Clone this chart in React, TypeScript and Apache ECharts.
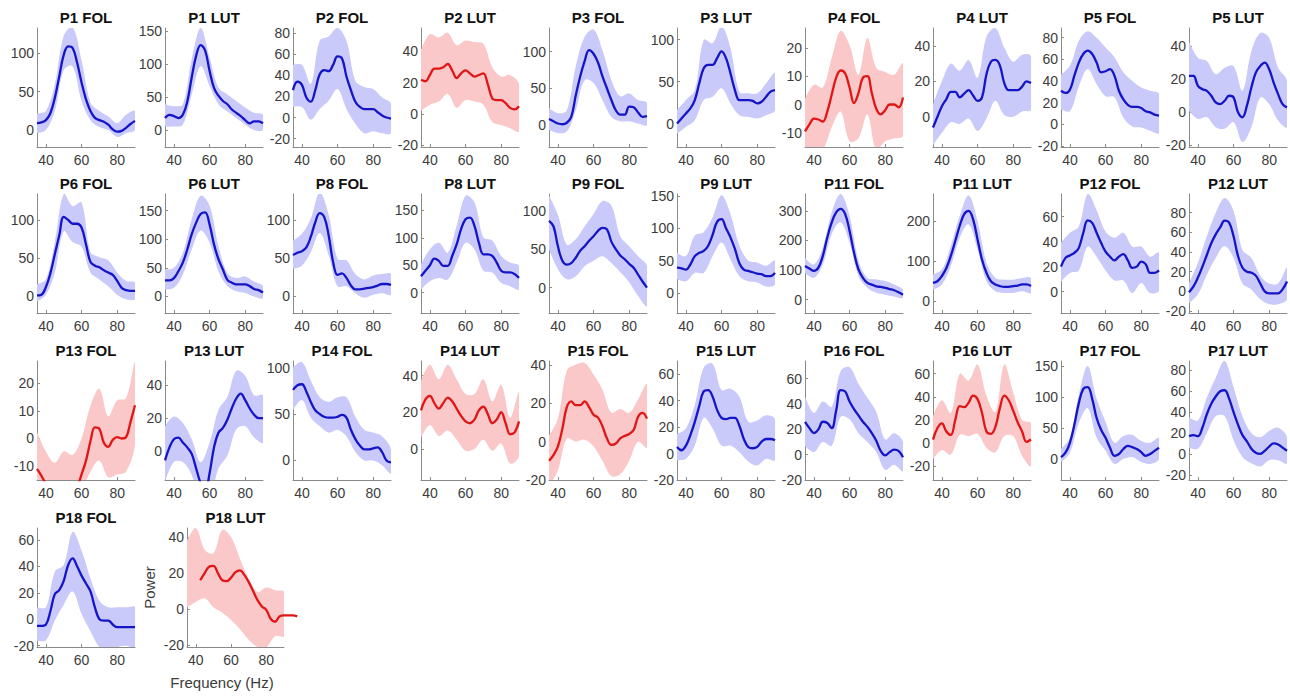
import React, { useEffect, useRef } from "react";
import * as echarts from "echarts";

const FREQ = [35, 37.5, 40, 42.5, 45, 47.5, 50, 52.5, 55, 57.5, 60, 62.5, 65, 67.5, 70, 72.5, 75, 77.5, 80, 82.5, 85, 87.5, 90];
const FREQ_LONG = [...FREQ, 92.5, 95, 97.5];
const FREQ_BAND = [35, 40, 45, 50, 55, 60, 65, 70, 75, 80, 85, 90];
const X_TICKS = [40, 60, 80];

const TITLES = [
  "P1 FOL", "P1 LUT", "P2 FOL", "P2 LUT", "P3 FOL", "P3 LUT", "P4 FOL", "P4 LUT", "P5 FOL", "P5 LUT",
  "P6 FOL", "P6 LUT", "P8 FOL", "P8 LUT", "P9 FOL", "P9 LUT", "P11 FOL", "P11 LUT", "P12 FOL", "P12 LUT",
  "P13 FOL", "P13 LUT", "P14 FOL", "P14 LUT", "P15 FOL", "P15 LUT", "P16 FOL", "P16 LUT", "P17 FOL", "P17 LUT",
  "P18 FOL", "P18 LUT",
];
const RED_PANELS = ["P2 LUT", "P4 FOL", "P13 FOL", "P14 LUT", "P15 FOL", "P16 LUT", "P18 LUT"];

const Y_MIN = [-22, -26, -28, -21, -30, -28, -15, -17, -21, -21, -22, -29, -22, -37, -33, -31, -45, -29, -17, -22, -15, -18, -21, -17, -20, -20, -20, -32, -34, -25, -21, -21];
const Y_MAX = [133, 155, 85, 55, 132, 114, 27, 50, 89, 51, 134, 179, 134, 180, 122, 153, 357, 267, 78, 99, 28, 55, 107, 48, 42, 70, 74, 71, 158, 89, 69, 45];
const T50 = [0, 50, 100];
const T150 = [0, 50, 100, 150];
const T20_80 = [-20, 0, 20, 40, 60, 80];
const T20_40 = [-20, 0, 20, 40];
const T20_60 = [-20, 0, 20, 40, 60];
const T0_40 = [0, 20, 40];
const T0_60 = [0, 20, 40, 60];
const T10 = [-10, 0, 10, 20];
const T300 = [0, 100, 200, 300];
const T200 = [0, 100, 200];
const Y_TICKS = [T50, T150, T20_80, T20_40, T50, T50, T10, T0_40, T20_80, T20_40, T50, T150, T50, T150, T50, T150, T300, T200, T0_60, T20_80, T10, T0_40, T50, T0_40, T20_40, T20_60, T20_60, T20_60, T150, T20_80, T20_60, T20_40];

const P1_FOL_MEAN = [9, 10, 13, 22, 42, 70, 98, 109, 107, 88, 62, 40, 25, 16, 13, 11, 7, 1, -2, -1, 3, 8, 12];
const P1_FOL_UP = [22, 25, 60, 123, 134, 91, 36, 25, 18, 9, 20, 25];
const P1_FOL_LO = [-4, 0, 25, 78, 83, 38, 13, 4, 0, -9, -4, 0];
const P1_LUT_MEAN = [18, 23, 21, 18, 23, 43, 80, 113, 129, 121, 90, 64, 52, 44, 39, 31, 26, 21, 15, 10, 13, 13, 10];
const P1_LUT_UP = [39, 36, 39, 108, 155, 111, 64, 54, 44, 34, 26, 23];
const P1_LUT_LO = [5, 5, 8, 54, 97, 67, 39, 28, 18, 8, 0, 0];
const P2_FOL_MEAN = [26, 34, 31, 19, 15, 26, 41, 45, 44, 50, 58, 56, 39, 26, 15, 10, 8, 8, 8, 5, 2, 0, -1];
const P2_FOL_UP = [50, 50, 32, 73, 77, 85, 73, 35, 29, 27, 19, 13];
const P2_FOL_LO = [10, 10, -2, 8, 16, 27, 8, -6, -15, -13, -15, -15];
const P2_LUT_MEAN = [22, 21, 25, 29, 29, 30, 32, 28, 23, 26, 28, 26, 24, 25, 26, 19, 10, 9, 9, 7, 4, 3, 5];
const P2_LUT_UP = [41, 51, 49, 52, 44, 47, 46, 45, 30, 24, 25, 19];
const P2_LUT_LO = [2, 6, 8, 13, 4, 9, 8, 6, -5, -7, -9, -11];
const P3_FOL_MEAN = [8, 5, 2, 1, 3, 11, 40, 66, 87, 102, 97, 85, 66, 50, 34, 20, 14, 14, 25, 24, 17, 11, 12];
const P3_FOL_UP = [23, 16, 20, 80, 120, 130, 102, 61, 39, 43, 34, 30];
const P3_FOL_LO = [-7, -11, -9, 20, 61, 57, 34, 11, 5, 5, 2, 0];
const P3_LUT_MEAN = [0, 6, 12, 18, 28, 48, 66, 70, 70, 78, 86, 78, 60, 40, 28, 28, 28, 27, 24, 26, 32, 38, 40];
const P3_LUT_UP = [16, 28, 40, 100, 96, 116, 90, 38, 36, 36, 48, 60];
const P3_LUT_LO = [-12, -4, 4, 28, 32, 42, 24, 10, 8, 6, 10, 16];
const P4_FOL_MEAN = [-9.5, -7, -5, -5.3, -6, -2.5, 3.5, 9.5, 12, 11, 6, 0.5, 4, 9.5, 10, 4, -1.5, -3.5, -2, 0, 0, -1, 2.5];
const P4_FOL_UP = [2, 7, 6, 16.5, 26, 21, 10.5, 23.5, 13, 11.5, 10.5, 14.5];
const P4_FOL_LO = [-19, -17, -16, -8, -2.5, -13, -12, -3.5, -16, -13, -12, -11];
const P4_LUT_MEAN = [-6, 0, 6, 10, 14, 14, 11, 13, 15, 12, 9, 11, 24, 31, 32, 29, 19, 15, 15, 15, 17, 20, 19];
const P4_LUT_UP = [7, 20, 30, 26, 32, 22, 45, 50, 39, 31, 35, 34];
const P4_LUT_LO = [-16, -9, -3, -4, -1, -8, -1, 9, 1, 0, 3, 4];
const P5_FOL_MEAN = [31, 29, 32, 45, 57, 65, 68, 65, 57, 48, 49, 51, 45, 31, 23, 18, 16, 16, 15, 12, 11, 9, 8];
const P5_FOL_UP = [46, 54, 77, 86, 80, 71, 62, 48, 40, 34, 31, 28];
const P5_FOL_LO = [14, 12, 35, 51, 37, 26, 25, 6, -2, -3, -6, -8];
const P5_LUT_MEAN = [22, 22, 16, 14, 13, 10, 6, 5, 7, 10, 9, 0, -3, 4, 15, 24, 28, 30, 26, 18, 11, 5, 3];
const P5_LUT_UP = [43, 33, 31, 23, 27, 28, 13, 37, 48, 45, 27, 19];
const P5_LUT_LO = [1, -4, -3, -9, -10, -6, -18, -9, 9, 5, -5, -9];
const P6_FOL_MEAN = [1, 2, 12, 30, 55, 80, 104, 100, 95, 95, 90, 68, 45, 40, 38, 34, 31, 28, 20, 11, 8, 7, 7];
const P6_FOL_UP = [16, 22, 71, 134, 118, 123, 58, 51, 47, 31, 20, 18];
const P6_FOL_LO = [-7, 2, 31, 85, 71, 65, 31, 22, 13, 2, -4, -4];
const P6_LUT_MEAN = [28, 28, 32, 44, 59, 82, 109, 129, 144, 147, 126, 91, 65, 47, 29, 24, 21, 21, 21, 18, 13, 11, 7];
const P6_LUT_UP = [47, 50, 76, 135, 176, 159, 88, 41, 32, 35, 26, 18];
const P6_LUT_LO = [12, 15, 38, 82, 115, 94, 44, 18, 9, 6, 0, -3];
const P8_FOL_MEAN = [54, 57, 59, 64, 78, 97, 109, 104, 80, 45, 28, 30, 24, 14, 9, 9, 10, 11, 12, 14, 16, 16, 15];
const P8_FOL_UP = [73, 82, 102, 136, 107, 49, 47, 29, 22, 27, 29, 29];
const P8_FOL_LO = [36, 40, 58, 83, 54, 13, 13, 4, -2, 2, 4, 2];
const P8_LUT_MEAN = [30, 40, 50, 62, 58, 49, 49, 67, 88, 116, 134, 137, 122, 91, 70, 70, 67, 55, 40, 37, 37, 34, 27];
const P8_LUT_UP = [52, 79, 91, 73, 122, 177, 165, 101, 95, 67, 55, 49];
const P8_LUT_LO = [6, 21, 27, 24, 55, 91, 79, 40, 37, 18, 12, 6];
const P9_FOL_MEAN = [87, 80, 54, 35, 30, 32, 39, 48, 54, 61, 67, 74, 78, 76, 60, 50, 42, 37, 31, 26, 17, 8, 0];
const P9_FOL_UP = [120, 95, 56, 63, 80, 96, 113, 107, 67, 54, 41, 28];
const P9_FOL_LO = [50, 24, 11, 15, 28, 35, 41, 32, 20, 7, -11, -24];
const P9_LUT_MEAN = [39, 38, 36, 44, 57, 62, 65, 73, 90, 110, 114, 100, 86, 68, 46, 36, 34, 32, 30, 29, 26, 26, 31];
const P9_LUT_UP = [62, 57, 89, 94, 117, 151, 122, 73, 50, 47, 42, 50];
const P9_LUT_LO = [21, 18, 31, 31, 57, 78, 52, 26, 18, 16, 10, 13];
const P11_FOL_MEAN = [114, 105, 97, 108, 148, 210, 261, 295, 307, 290, 233, 159, 102, 74, 57, 51, 45, 43, 40, 36, 32, 25, 17];
const P11_FOL_UP = [142, 119, 176, 295, 357, 284, 131, 74, 68, 63, 51, 34];
const P11_FOL_LO = [91, 74, 119, 222, 261, 193, 80, 40, 23, 17, 11, 6];
const P11_LUT_MEAN = [46, 50, 63, 83, 113, 150, 188, 217, 225, 204, 154, 104, 71, 50, 42, 38, 36, 36, 38, 39, 42, 42, 38];
const P11_LUT_UP = [67, 79, 138, 213, 263, 200, 96, 58, 54, 54, 58, 58];
const P11_LUT_LO = [29, 42, 88, 158, 192, 129, 50, 25, 21, 21, 25, 21];
const P12_FOL_MEAN = [20, 27, 29, 31, 35, 47, 57, 55, 47, 39, 32, 28, 25, 28, 30, 25, 19, 20, 24, 22, 15, 15, 17];
const P12_FOL_UP = [39, 47, 52, 78, 65, 48, 43, 47, 36, 36, 28, 31];
const P12_FOL_LO = [8, 15, 17, 36, 28, 17, 9, 9, -1, 7, -1, 1];
const P12_LUT_MEAN = [-1, 5, 14, 25, 37, 49, 58, 65, 72, 70, 56, 36, 24, 20, 19, 16, 8, 0, -2, -2, -2, 2, 10];
const P12_LUT_UP = [8, 29, 56, 80, 95, 82, 42, 34, 16, 8, 8, 24];
const P12_LUT_LO = [-12, -3, 17, 34, 46, 34, 8, 2, -8, -13, -13, -8];
const P13_FOL_MEAN = [-11, -13.5, -16.5, -19, -22, -25, -26, -25, -22, -18, -13, -8, -1, 4, 3.5, -1.5, -3, -0.5, 0.5, 0, 0.5, 6, 12];
const P13_FOL_UP = [2.3, -4.7, -8.8, -4.7, -6, 0, 11.8, 18, 8, 13.8, 14.5, 27.5];
const P13_FOL_LO = [-25, -30, -35, -38, -35, -20, -12, -8, -14, -13, -12, -2];
const P13_LUT_MEAN = [-6, 2, 7, 8, 5, 2, -2, -11, -20, -25, -14, 2, 11, 14, 19, 26, 32, 35, 31, 26, 22, 20, 20];
const P13_LUT_UP = [15, 21, 17, 7, -7, 5, 25, 33, 49, 46, 34, 34];
const P13_LUT_LO = [-19, -7, -7, -15, -35, -30, -11, -3, 13, 15, 8, 5];
const P14_FOL_MEAN = [76, 81, 82, 74, 63, 54, 50, 47, 46, 46, 47, 49, 46, 33, 23, 16, 12, 12, 13, 14, 9, 0, -2];
const P14_FOL_UP = [100, 106, 86, 68, 63, 68, 68, 47, 33, 30, 26, 12];
const P14_FOL_LO = [54, 65, 46, 37, 30, 33, 26, 9, 0, 0, -5, -14];
const P14_LUT_MEAN = [21, 27, 29, 25, 22, 25, 28, 26, 22, 18, 15, 14, 16, 21, 23, 19, 14, 16, 20, 14, 8, 9, 15];
const P14_LUT_UP = [37, 46, 38, 46, 38, 30, 30, 38, 26, 35, 17, 31];
const P14_LUT_LO = [6, 13, 7, 10, 5, -1, 0, 5, -1, 3, -8, -4];
const P15_FOL_MEAN = [-10, -7, -2.5, 6.7, 18, 21, 19, 19, 21, 18, 14, 12.5, 8, 1.7, -1.7, -1, 1.7, 3, 4, 6, 13, 15, 12];
const P15_FOL_UP = [3, 12, 37, 40, 41, 35, 27, 15, 17, 15, 22, 30];
const P15_FOL_LO = [-23, -15, 1.7, 0, 1, -2.5, -10, -18, -17, -10, 0, -3];
const P15_LUT_MEAN = [5, 2.5, 6, 14, 24, 36, 47, 48, 43, 33, 27, 26, 27, 27, 21, 11, 5, 4, 5, 9, 11, 11, 10];
const P15_LUT_UP = [15, 19, 37, 65, 68, 48, 49, 43, 24, 25, 29, 26];
const P15_LUT_LO = [-5, -4, 6, 27, 19, 6, 6, 1, -6, -9, -4, -5];
const P16_FOL_MEAN = [26, 21, 17, 20, 26, 25, 21, 35, 51, 50, 42, 36, 31, 26, 22, 17, 11, 3, -0.5, 2, 4, 3, -2];
const P16_FOL_UP = [46, 33, 42, 38, 66, 69, 56, 45, 34, 12, 17, 10];
const P16_FOL_LO = [7, 2, 10, 7, 30, 28, 17, 10, 2, -12, -8, -13];
const P16_LUT_MEAN = [3, 13, 17, 10, 7, 20, 32, 31, 35, 41, 38, 26, 10, 8, 14, 30, 41, 37, 28, 18, 10, 1, 3];
const P16_LUT_UP = [23, 37, 26, 60, 54, 68, 41, 27, 68, 44, 20, 17];
const P16_LUT_LO = [-14, -6, -10, 7, 6, 8, -4, -8, 6, 6, -11, -20];
const P17_FOL_MEAN = [3, 10, 26, 55, 90, 113, 116, 97, 66, 47, 34, 18, 5, 8, 16, 21, 19, 16, 11, 5, 8, 13, 18];
const P17_FOL_UP = [16, 34, 103, 150, 97, 60, 26, 37, 39, 29, 26, 34];
const P17_FOL_LO = [-5, 10, 58, 82, 34, 13, -8, 0, 3, -5, -8, 0];
const P17_LUT_MEAN = [17, 18, 17, 25, 38, 48, 55, 60, 61, 53, 40, 28, 18, 12, 5, 1, 0, 3, 7, 10, 9, 6, 3];
const P17_LUT_UP = [35, 32, 54, 73, 89, 64, 36, 20, 16, 22, 25, 16];
const P17_LUT_LO = [6, 5, 20, 36, 36, 13, -3, -9, -12, -6, -6, -9];
const P18_FOL_MEAN = [-5, -5, -4, 6, 19, 22, 29, 41, 46, 40, 33, 27, 21, 9, 0, -1, -1, -4, -6, -6, -6, -6, -6];
const P18_FOL_UP = [9, 9, 36, 41, 66, 52, 31, 14, 9, 9, 9, 9];
const P18_FOL_LO = [-16, -16, -1, 11, 21, 4, -9, -21, -24, -21, -20, -21];
const P18_LUT_MEAN = [null, null, null, 16, 20, 23.5, 24, 20, 16, 15.5, 17.5, 20.5, 21.5, 19, 15, 10, 5, 1.5, -0.5, -5.5, -7, -4, -3.5, -3.5, -3.5, -4];
const P18_LUT_UP = [38, 45, 33, 31, 44, 40, 28, 17, 9.5, 12, 10.5, 9.5];
const P18_LUT_LO = [1, 4, 6, 1, -2, -6, -11, -17, -21, -21, -15, -15];

const MEANS = [P1_FOL_MEAN, P1_LUT_MEAN, P2_FOL_MEAN, P2_LUT_MEAN, P3_FOL_MEAN, P3_LUT_MEAN, P4_FOL_MEAN, P4_LUT_MEAN, P5_FOL_MEAN, P5_LUT_MEAN,
  P6_FOL_MEAN, P6_LUT_MEAN, P8_FOL_MEAN, P8_LUT_MEAN, P9_FOL_MEAN, P9_LUT_MEAN, P11_FOL_MEAN, P11_LUT_MEAN, P12_FOL_MEAN, P12_LUT_MEAN,
  P13_FOL_MEAN, P13_LUT_MEAN, P14_FOL_MEAN, P14_LUT_MEAN, P15_FOL_MEAN, P15_LUT_MEAN, P16_FOL_MEAN, P16_LUT_MEAN, P17_FOL_MEAN, P17_LUT_MEAN,
  P18_FOL_MEAN, P18_LUT_MEAN];
const UPS = [P1_FOL_UP, P1_LUT_UP, P2_FOL_UP, P2_LUT_UP, P3_FOL_UP, P3_LUT_UP, P4_FOL_UP, P4_LUT_UP, P5_FOL_UP, P5_LUT_UP,
  P6_FOL_UP, P6_LUT_UP, P8_FOL_UP, P8_LUT_UP, P9_FOL_UP, P9_LUT_UP, P11_FOL_UP, P11_LUT_UP, P12_FOL_UP, P12_LUT_UP,
  P13_FOL_UP, P13_LUT_UP, P14_FOL_UP, P14_LUT_UP, P15_FOL_UP, P15_LUT_UP, P16_FOL_UP, P16_LUT_UP, P17_FOL_UP, P17_LUT_UP,
  P18_FOL_UP, P18_LUT_UP];
const LOS = [P1_FOL_LO, P1_LUT_LO, P2_FOL_LO, P2_LUT_LO, P3_FOL_LO, P3_LUT_LO, P4_FOL_LO, P4_LUT_LO, P5_FOL_LO, P5_LUT_LO,
  P6_FOL_LO, P6_LUT_LO, P8_FOL_LO, P8_LUT_LO, P9_FOL_LO, P9_LUT_LO, P11_FOL_LO, P11_LUT_LO, P12_FOL_LO, P12_LUT_LO,
  P13_FOL_LO, P13_LUT_LO, P14_FOL_LO, P14_LUT_LO, P15_FOL_LO, P15_LUT_LO, P16_FOL_LO, P16_LUT_LO, P17_FOL_LO, P17_LUT_LO,
  P18_FOL_LO, P18_LUT_LO];

const FONT = "'Liberation Sans', Arial, Helvetica, sans-serif";
const AXIS_COLOR = "#8a8a8a";
const LABEL_COLOR = "#3c3c3c";
const BLUE = "#1515c8";
const BLUE_BAND = "#c9c9fa";
const RED = "#e01616";
const RED_BAND = "#fac8c8";

const ROW_TOPS = [28, 194, 361, 528];
const COL_LEFT0 = 37;
const COL_STEP = 128;
const PLOT_W = 98;
const PLOT_H = 119;

function buildOption() {
  const grids: any[] = [];
  const xAxes: any[] = [];
  const yAxes: any[] = [];
  const series: any[] = [];
  const titles: any[] = [];

  TITLES.forEach((title, i) => {
    const r = Math.floor(i / 10);
    const c = i % 10;
    const isLast = i === TITLES.length - 1;
    const left = isLast ? 187 : COL_LEFT0 + COL_STEP * c;
    const width = isLast ? 97 : PLOT_W;
    const top = ROW_TOPS[r];
    const red = RED_PANELS.includes(title);
    const lineColor = red ? RED : BLUE;
    const bandColor = red ? RED_BAND : BLUE_BAND;

    grids.push({ left, top, width, height: PLOT_H, containLabel: false });
    titles.push({
      text: title,
      left: left + width / 2,
      top: top - 18,
      textAlign: "center",
      padding: 0,
      textStyle: { fontFamily: FONT, fontSize: 15, fontWeight: "bold", color: "#111" },
    });

    xAxes.push({
      type: "value",
      gridIndex: i,
      min: 35,
      max: 90,
      axisLine: { show: true, onZero: false, lineStyle: { color: AXIS_COLOR, width: 1 } },
      axisTick: { show: true, inside: true, length: 3, customValues: X_TICKS, lineStyle: { color: AXIS_COLOR } },
      axisLabel: { customValues: X_TICKS, fontSize: 14, color: LABEL_COLOR, margin: 6, fontFamily: FONT },
      splitLine: { show: false },
      ...(isLast
        ? {
            name: "Frequency (Hz)",
            nameLocation: "middle",
            nameGap: 28,
            nameTextStyle: { fontSize: 15, color: LABEL_COLOR, fontFamily: FONT, padding: [0, 27, 0, 0] },
          }
        : {}),
    });
    yAxes.push({
      type: "value",
      gridIndex: i,
      min: Y_MIN[i],
      max: Y_MAX[i],
      axisLine: { show: true, onZero: false, lineStyle: { color: AXIS_COLOR, width: 1 } },
      axisTick: { show: true, inside: true, length: 3, customValues: Y_TICKS[i], lineStyle: { color: AXIS_COLOR } },
      axisLabel: { customValues: Y_TICKS[i], fontSize: 14, color: LABEL_COLOR, margin: 3, fontFamily: FONT },
      splitLine: { show: false },
      ...(isLast
        ? {
            name: "Power",
            nameLocation: "middle",
            nameGap: 30,
            nameTextStyle: { fontSize: 15, color: LABEL_COLOR, fontFamily: FONT },
          }
        : {}),
    });

    const lo = LOS[i];
    const up = UPS[i];
    series.push({
      type: "custom",
      xAxisIndex: i,
      yAxisIndex: i,
      silent: true,
      clip: true,
      z: 1,
      data: [[62.5, 0]],
      encode: { x: 0, y: 1 },
      renderItem: (params: any, api: any) => {
        const upper = FREQ_BAND.map((f, k) => api.coord([f, up[k]]));
        const lower = FREQ_BAND.map((f, k) => api.coord([f, lo[k]])).reverse();
        const cs = params.coordSys;
        return {
          type: "group",
          clipPath: { type: "rect", shape: { x: cs.x, y: cs.y, width: cs.width, height: cs.height } },
          children: [
            {
              type: "polyline",
              shape: { points: upper.concat(lower), smooth: 0.35 },
              style: { fill: bandColor, stroke: "none" },
            },
          ],
        };
      },
    });

    const mean = MEANS[i];
    let axisIdx = i;
    let freqs = FREQ;
    if (isLast) {
      // the last panel's mean trace runs past the 90 Hz end of its axis:
      // draw it on a hidden, wider twin of the same axes (same px per Hz).
      freqs = FREQ_LONG;
      const extMax = FREQ_LONG[FREQ_LONG.length - 1];
      const extWidth = (width * (extMax - 35)) / (90 - 35);
      axisIdx = TITLES.length;
      grids.push({ left, top, width: extWidth, height: PLOT_H, containLabel: false });
      xAxes.push({ type: "value", gridIndex: axisIdx, min: 35, max: extMax, show: false });
      yAxes.push({ type: "value", gridIndex: axisIdx, min: Y_MIN[i], max: Y_MAX[i], show: false });
    }
    series.push({
      type: "line",
      xAxisIndex: axisIdx,
      yAxisIndex: axisIdx,
      smooth: 0.4,
      symbol: "none",
      silent: true,
      connectNulls: false,
      lineStyle: { width: 2.3, color: lineColor },
      data: freqs.map((f, k) => [f, mean[k]]),
      z: 3,
    });
  });

  return {
    animation: false,
    backgroundColor: "#ffffff",
    title: titles,
    grid: grids,
    xAxis: xAxes,
    yAxis: yAxes,
    series,
  };
}

export default function App() {
  const ref = useRef<HTMLDivElement>(null);
  useEffect(() => {
    document.body.style.margin = "0";
    if (!ref.current) return;
    const chart = echarts.init(ref.current, undefined, { renderer: "svg" });
    chart.setOption(buildOption() as any);
    return () => chart.dispose();
  }, []);
  return <div ref={ref} style={{ width: 1290, height: 698 }} />;
}
